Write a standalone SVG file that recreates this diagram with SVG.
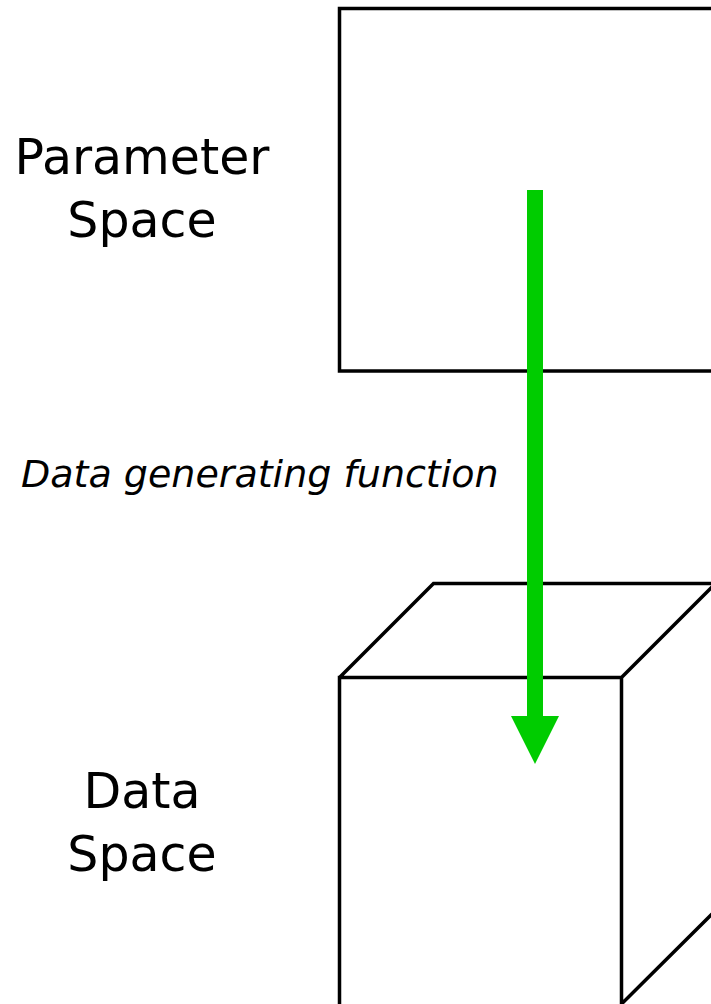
<svg xmlns="http://www.w3.org/2000/svg" width="711" height="1004" viewBox="0 0 711 1004">
  <style>
    .outline { fill: none; stroke: #000; stroke-width: 3.5; stroke-linejoin: miter; }
    .label { font-family: "DejaVu Sans", "Liberation Sans", sans-serif; font-size: 49px; fill: #000; text-anchor: middle; }
    .edge-label { font-family: "DejaVu Sans", "Liberation Sans", sans-serif; font-size: 38px; font-style: italic; fill: #000; }
  </style>
  <rect width="711" height="1004" fill="#fff"/>

  <!-- parameter space: flat rectangle -->
  <g id="parameter-space">
    <rect class="outline" x="339.5" y="8.5" width="420" height="362.5"/>
    <text class="label" x="142" y="174">Parameter</text>
    <text class="label" x="142" y="237">Space</text>
  </g>

  <!-- data space: cube -->
  <g id="data-space">
    <path class="outline" d="M339.5 1010 V677.5 H621.5 V1010 M339.5 677.5 L433.5 583.5 H760 M621.5 677.5 L716 583 M621.5 1004 L716 910"/>
    <text class="label" x="142" y="808">Data</text>
    <text class="label" x="142" y="871">Space</text>
  </g>

  <!-- mapping arrow -->
  <g id="connectors">
    <rect x="527" y="190" width="16" height="527" fill="#00cc00"/>
    <polygon points="511,716 559,716 535,764" fill="#00cc00"/>
    <text class="edge-label" x="21" y="487">Data generating function</text>
  </g>
</svg>
